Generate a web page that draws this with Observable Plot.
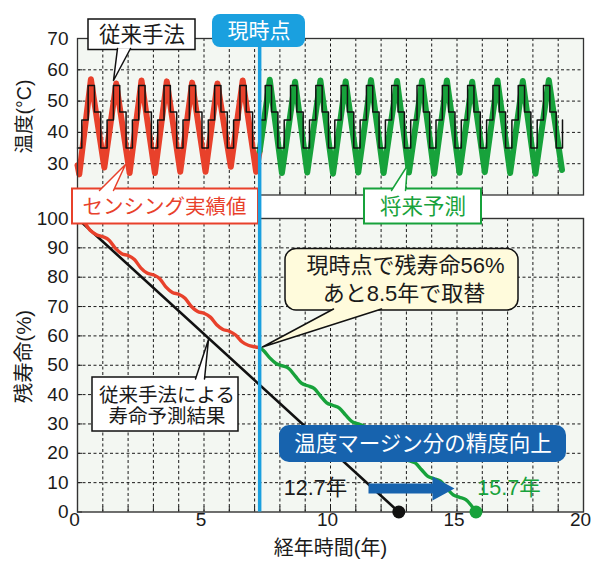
<!DOCTYPE html>
<html><head><meta charset="utf-8">
<script src="https://cdn.jsdelivr.net/npm/d3@7"></script>
<script src="https://cdn.jsdelivr.net/npm/@observablehq/plot@0.6"></script>
<style>
html,body{margin:0;padding:0;background:#fff;}
#wrap{position:relative;width:592px;height:561px;overflow:hidden;background:#fff;}
#wrap svg{position:absolute;left:0;top:0;}
</style></head><body><div id="wrap"></div>
<script>
// ================= DATA =================
const yearTicks = [0,1,2,3,4,5,6,7,8,9,10,11,12,13,14,15,16,17,18,19,20];
const xLabelTicks = [0,5,10,15,20];
const tempTicks = [30,40,50,60,70];
const tempGrid = [30,40,50,60];
const lifeTicks = [0,10,20,30,40,50,60,70,80,90,100];
const lifeGrid = [10,20,30,40,50,60,70,80,90];
const nowYear = 7.2;

// conventional method: fixed seasonal temperature steps, repeated each year
const convYears = [0,1,2,3,4,5,6,7,8,9,10,11,12,13,14,15,16,17,18];
const convSeasonStart = [0.17, 0.42, 0.67, 0.92];
const convSeasonTemp = [44, 55, 46.5, 35];
const convStartTemp = 35;
const convEndYear = 19.17, convEndTemp = 44;

// sensed temperature (actual, red): turning points
const sensedYear = [0, 0.07, 0.53, 1.06, 1.53, 2.06, 2.53, 3.06, 3.53, 4.06, 4.53, 5.06, 5.53, 6.06, 6.53, 7.06, 7.2];
const sensedTemp = [29.5, 26.6, 57.0, 28.8, 55.6, 27.0, 56.6, 27.0, 56.3, 27.4, 55.9, 27.4, 55.6, 29.0, 56.6, 27.4, 34];

// forecast temperature (green): turning points
const forecastYear = [7.2, 7.6, 8.08, 8.6, 9.08, 9.6, 10.1, 10.6, 11.1, 11.6, 12.1, 12.63, 13.1, 13.62, 14.1, 14.6, 15.1, 15.6, 16.1, 16.6, 17.1, 17.6, 18.1, 18.63, 19.15];
const forecastTemp = [34, 56.8, 27.0, 56.2, 27.2, 56.6, 26.8, 56.3, 27.2, 56.7, 27.0, 56.4, 27.2, 56.5, 26.8, 56.6, 27.1, 56.2, 27.3, 56.6, 27.0, 56.4, 26.8, 56.7, 28.0];

// remaining life (%)
const lifeConvYear = [0, 12.7];
const lifeConvValue = [100, 0];
const lifeSensedYear = [0, 0.25, 0.5, 0.75, 1, 1.25, 1.5, 1.75, 2, 2.25, 2.5, 2.75, 3, 3.25, 3.5, 3.75, 4, 4.25, 4.5, 4.75, 5, 5.25, 5.5, 5.75, 6, 6.25, 6.5, 6.75, 7, 7.2];
const lifeSensedValue = [100, 98.8, 96.0, 94.5, 93.8, 92.6, 89.8, 88.0, 87.4, 86.0, 83.2, 81.4, 80.8, 79.5, 76.6, 74.8, 74.2, 72.8, 70.0, 68.3, 67.7, 66.4, 63.8, 62.2, 61.6, 60.3, 58.0, 56.8, 56.3, 56.0];
const lifeForecastYear = [7.2, 7.35, 7.6, 7.85, 8.1, 8.35, 8.6, 8.85, 9.1, 9.35, 9.6, 9.85, 10.1, 10.35, 10.6, 10.85, 11.1, 11.35, 11.6, 11.85, 12.1, 12.35, 12.6, 12.85, 13.1, 13.35, 13.6, 13.85, 14.1, 14.35, 14.6, 14.85, 15.1, 15.35, 15.55, 15.75];
const lifeForecastValue = [56.0, 55.0, 52.5, 50.6, 49.8, 48.9, 46.4, 43.9, 43.0, 42.1, 39.6, 37.2, 36.3, 35.4, 33.0, 30.8, 30.0, 29.2, 26.8, 24.4, 23.5, 22.7, 20.4, 18.3, 17.5, 16.7, 14.4, 12.1, 11.3, 10.5, 8.1, 5.8, 5.0, 4.2, 2.4, 0];
const endConv = {year: 12.7, value: 0};
const endForecast = {year: 15.75, value: 0};

// ================= STYLE / LAYOUT =================
const W = 592, H = 561;
const FONT = '"Liberation Sans", Arial, "Noto Sans CJK JP", sans-serif';
const RED = "#e8412b", GREEN = "#17a23b", BLUE_NOW = "#1aa0df", BLUE_DARK = "#1763ae", INK = "#1a1a1a", PANEL = "#f3f7f2";
const ML = 77, MR = 9;
const TOPP = {top: 38, bottom: 194.5};
const BOTP = {top: 218, bottom: 511.5};
const X = px => (px - ML) / ((W - ML - MR) / 20);
const YT = py => 20 + (TOPP.bottom - py) * 50 / (TOPP.bottom - TOPP.top);
const YB = py => (BOTP.bottom - py) * 100 / (BOTP.bottom - BOTP.top);

// build tables
const zip = (xs, ys) => xs.map((x, i) => ({x, y: ys[i]}));
const convTemp = [{x: 0, y: convStartTemp}];
convYears.forEach(k => convSeasonStart.forEach((s, i) => convTemp.push({x: k + s, y: convSeasonTemp[i]})));
convTemp.push({x: convEndYear, y: convEndTemp});
const sensed = zip(sensedYear, sensedTemp);
const forecast = zip(forecastYear, forecastTemp);
const lifeConv = zip(lifeConvYear, lifeConvValue);
const lifeSensed = zip(lifeSensedYear, lifeSensedValue);
const lifeForecast = zip(lifeForecastYear, lifeForecastValue);

// annotation helpers (pixel layout -> data units of a given panel)
function box(Y, x1, x2, y1, y2, o) {
  return Plot.rect([{x1: X(x1), x2: X(x2), y1: Y(y1), y2: Y(y2)}], {x1: "x1", x2: "x2", y1: "y1", y2: "y2", ...o});
}
function poly(Y, pts, o) {
  return Plot.line(pts.map(([px, py]) => ({x: X(px), y: Y(py)})), {x: "x", y: "y", curve: "linear", ...o});
}
function label(Y, str, px, py, o) {
  return Plot.text([{x: X(px), y: Y(py), t: str}], {x: "x", y: "y", text: "t", fontFamily: FONT, ...o});
}

const gridStyle = {stroke: INK, strokeWidth: 1, strokeDasharray: "3,2.5"};

// ================= BOTTOM PANEL (remaining life) =================
const lifeChart = Plot.plot({
  width: W, height: H,
  marginLeft: ML, marginRight: MR, marginTop: BOTP.top, marginBottom: H - BOTP.bottom,
  x: {domain: [0, 20], axis: null, label: null},
  y: {domain: [0, 100], ticks: lifeTicks, tickSize: 0, tickPadding: 9, label: null},
  style: {background: "transparent", fontSize: "19px", fontFamily: FONT, color: INK, overflow: "visible"},
  marks: [
    Plot.frame({fill: PANEL, stroke: null}),
    Plot.ruleX(yearTicks.slice(1, -1), gridStyle),
    Plot.ruleY(lifeGrid, gridStyle),
    Plot.ruleX(yearTicks, {y1: 0, y2: YB(BOTP.bottom - 5), stroke: INK, strokeWidth: 1}),
    Plot.ruleY(lifeTicks, {x1: 0, x2: X(ML + 5), stroke: INK, strokeWidth: 1}),
    Plot.line(lifeConv, {x: "x", y: "y", stroke: "#111", strokeWidth: 2.6}),
    Plot.line(lifeSensed, {x: "x", y: "y", stroke: RED, strokeWidth: 3.4, curve: "monotone-x"}),
    Plot.line(lifeForecast, {x: "x", y: "y", stroke: GREEN, strokeWidth: 3.4, curve: "monotone-x"}),
    Plot.frame({stroke: "#333", strokeWidth: 1.4}),
    Plot.dot([endConv], {x: "year", y: "value", r: 6.5, fill: "#111", stroke: null}),
    Plot.dot([endForecast], {x: "year", y: "value", r: 6.5, fill: GREEN, stroke: null}),
    // x tick labels
    Plot.text(xLabelTicks, {x: d => d, frameAnchor: "bottom", dy: 13.5, dx: -3, text: d => String(d), fontFamily: FONT, fontSize: 19, fill: INK}),
    // callout: conventional life prediction
    box(YB, 92, 238, 377, 431, {fill: "#fff", stroke: "#111", strokeWidth: 1.5}),
    poly(YB, [[195, 378.5], [208, 339], [204, 378.5]], {fill: "#fff", stroke: "#111", strokeWidth: 1.5}),
    label(YB, "従来手法による", 166.5, 395, {fontSize: 19.5, fill: INK}),
    label(YB, "寿命予測結果", 166.5, 416, {fontSize: 19.5, fill: INK}),
    // callout: now remaining life
    box(YB, 285, 518, 248.5, 310, {rx: 11, fill: "#fffbdc", stroke: "#111", strokeWidth: 1.5}),
    poly(YB, [[333, 308.5], [262, 346.5], [381, 308.5]], {fill: "#fffbdc", stroke: "#111", strokeWidth: 1.5}),
    label(YB, "現時点で残寿命56%", 405, 265.5, {fontSize: 22, fill: INK}),
    label(YB, "あと8.5年で取替", 403.5, 293.5, {fontSize: 22, fill: INK}),
    // accuracy gain banner
    box(YB, 279, 566, 425, 462, {rx: 10, fill: BLUE_DARK}),
    label(YB, "温度マージン分の精度向上", 422.5, 443.5, {fontSize: 21.5, fill: "#fff"}),
    // arrow
    poly(YB, [[368, 483], [432, 483], [432, 476], [454, 488], [432, 500], [432, 493], [368, 493]], {fill: BLUE_DARK, stroke: null}),
    label(YB, "12.7年", 315, 488, {fontSize: 21.5, fill: INK}),
    label(YB, "15.7年", 508.5, 488, {fontSize: 21.5, fill: GREEN}),
    // axis titles
    label(YB, "残寿命(%)", 24, 356, {fontSize: 20.5, fill: INK, rotate: -90}),
    label(YB, "経年時間(年)", 330, 548, {fontSize: 20, fill: INK})
  ]
});

// ================= TOP PANEL (temperature) =================
const tempChart = Plot.plot({
  width: W, height: H,
  marginLeft: ML, marginRight: MR, marginTop: TOPP.top, marginBottom: H - TOPP.bottom,
  x: {domain: [0, 20], axis: null, label: null},
  y: {domain: [20, 70], ticks: tempTicks, tickSize: 0, tickPadding: 9, label: null},
  style: {background: "transparent", fontSize: "19px", fontFamily: FONT, color: INK, overflow: "visible"},
  marks: [
    Plot.frame({fill: PANEL, stroke: null}),
    Plot.ruleX(yearTicks.slice(1, -1), gridStyle),
    Plot.ruleY(tempGrid, gridStyle),
    Plot.ruleX(yearTicks, {y1: 20, y2: YT(TOPP.bottom - 5), stroke: INK, strokeWidth: 1}),
    Plot.ruleY(tempTicks, {x1: 0, x2: X(ML + 5), stroke: INK, strokeWidth: 1}),
    Plot.line(sensed, {x: "x", y: "y", stroke: RED, strokeWidth: 6}),
    Plot.line(forecast, {x: "x", y: "y", stroke: GREEN, strokeWidth: 6}),
    Plot.line(convTemp, {x: "x", y: "y", curve: "step-after", stroke: "#111", strokeWidth: 1.5}),
    Plot.frame({stroke: "#333", strokeWidth: 1.3}),
    // callout: sensing actual
    box(YT, 72, 258, 188.5, 223.5, {fill: "#fff", stroke: RED, strokeWidth: 2}),
    poly(YT, [[99, 190], [125, 164], [113, 190]], {fill: "#fff", stroke: RED, strokeWidth: 1.5}),
    label(YT, "センシング実績値", 164, 206.5, {fontSize: 20.5, fill: RED}),
    // callout: forecast
    box(YT, 364, 481, 188.5, 223.5, {fill: "#fff", stroke: GREEN, strokeWidth: 2}),
    poly(YT, [[391, 190], [407, 165], [405, 190]], {fill: "#fff", stroke: GREEN, strokeWidth: 1.5}),
    label(YT, "将来予測", 422.5, 206.5, {fontSize: 21.5, fill: GREEN}),
    // current time line and tag
    Plot.ruleX([nowYear], {y1: YT(BOTP.bottom), y2: YT(46), stroke: BLUE_NOW, strokeWidth: 3.5}),
    box(YT, 212, 305, 14, 47, {rx: 8, fill: BLUE_NOW}),
    label(YT, "現時点", 258.5, 31, {fontSize: 21, fill: "#fff"}),
    // callout: conventional method
    box(YT, 88, 195, 19, 49.5, {fill: "#fff", stroke: "#111", strokeWidth: 1.5}),
    poly(YT, [[117, 48], [113, 80], [130, 48]], {fill: "#fff", stroke: "#111", strokeWidth: 1.5}),
    label(YT, "従来手法", 141.5, 34.5, {fontSize: 21.5, fill: INK}),
    // axis title
    label(YT, "温度(°C)", 24, 116, {fontSize: 19.5, fill: INK, rotate: -90})
  ]
});

const wrap = document.getElementById("wrap");
wrap.appendChild(lifeChart);
wrap.appendChild(tempChart);
</script>
</body></html>
